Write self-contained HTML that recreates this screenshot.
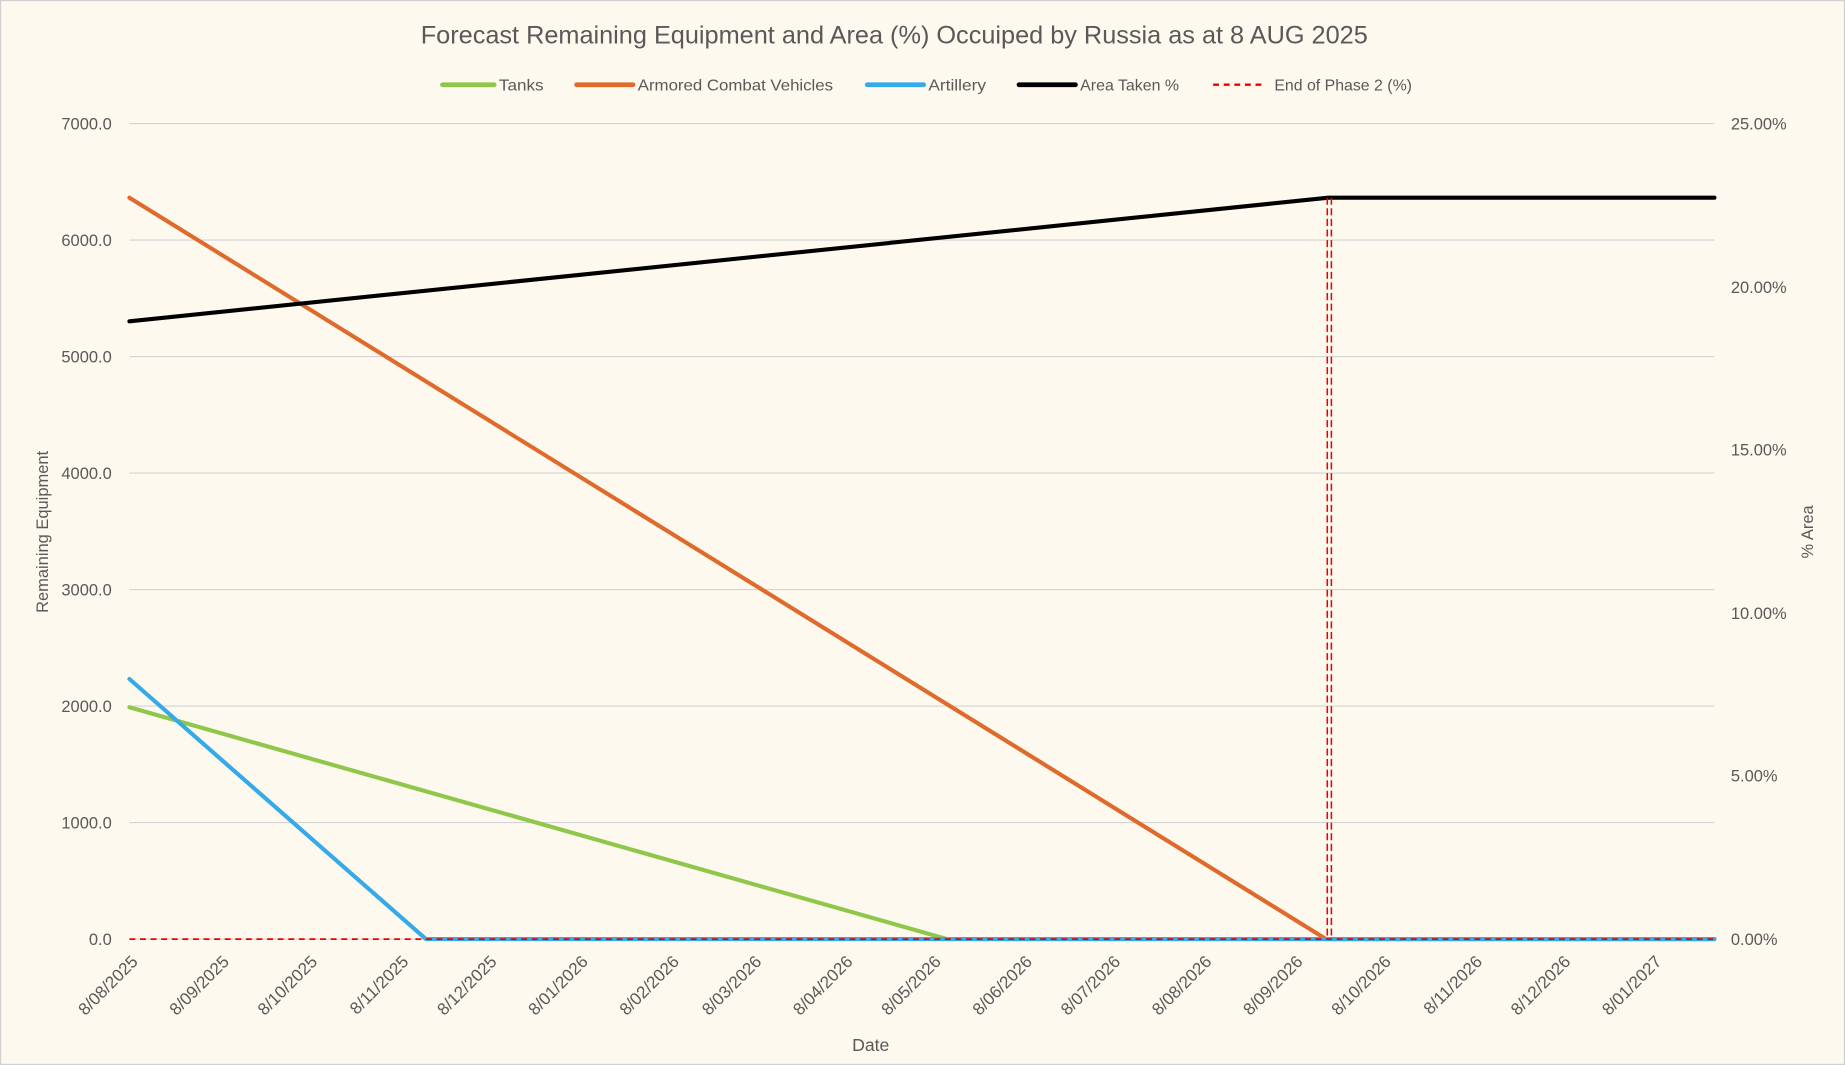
<!DOCTYPE html>
<html><head><meta charset="utf-8"><style>
html,body{margin:0;padding:0;background:#fdf9ee;}
svg{display:block;}
text{font-family:"Liberation Sans",sans-serif;fill:#595959;}
</style></head><body>
<svg width="1845" height="1065" viewBox="0 0 1568 905" preserveAspectRatio="none" xmlns="http://www.w3.org/2000/svg">
<rect x="0" y="0" width="1568" height="905" fill="#fdf9ee" stroke="#d0d0d0" stroke-width="2"/>
<text x="760" y="37" text-anchor="middle" font-size="21.5">Forecast Remaining Equipment and Area (%) Occuiped by Russia as at 8 AUG 2025</text>
<!-- legend -->
<g font-size="13.5">
<line x1="376" y1="72" x2="420" y2="72" stroke="#8fc74b" stroke-width="4" stroke-linecap="round"/><text x="424" y="77" textLength="38" lengthAdjust="spacingAndGlyphs">Tanks</text>
<line x1="490" y1="72" x2="538" y2="72" stroke="#e06a2c" stroke-width="4" stroke-linecap="round"/><text x="542" y="77" textLength="166" lengthAdjust="spacingAndGlyphs">Armored Combat Vehicles</text>
<line x1="737" y1="72" x2="785" y2="72" stroke="#36a9e8" stroke-width="4" stroke-linecap="round"/><text x="789" y="77" textLength="49" lengthAdjust="spacingAndGlyphs">Artillery</text>
<line x1="866" y1="72" x2="914" y2="72" stroke="#000" stroke-width="4" stroke-linecap="round"/><text x="918" y="77" textLength="84" lengthAdjust="spacingAndGlyphs">Area Taken %</text>
<line x1="1031" y1="72" x2="1074" y2="72" stroke="#e00" stroke-width="2" stroke-dasharray="5,4"/><text x="1083" y="77" textLength="117" lengthAdjust="spacingAndGlyphs">End of Phase 2 (%)</text>
</g>
<!-- gridlines -->
<g stroke="#d4d4d4" stroke-width="1">
<line x1="110" y1="105" x2="1457" y2="105"/><line x1="110" y1="204" x2="1457" y2="204"/>
<line x1="110" y1="303" x2="1457" y2="303"/><line x1="110" y1="402" x2="1457" y2="402"/>
<line x1="110" y1="501" x2="1457" y2="501"/><line x1="110" y1="600" x2="1457" y2="600"/>
<line x1="110" y1="699" x2="1457" y2="699"/><line x1="110" y1="798" x2="1457" y2="798"/>
</g>
<g font-size="14" text-anchor="end">
<text x="95" y="110">7000.0</text><text x="95" y="209">6000.0</text><text x="95" y="308">5000.0</text>
<text x="95" y="407">4000.0</text><text x="95" y="506">3000.0</text><text x="95" y="605">2000.0</text>
<text x="95" y="704">1000.0</text><text x="95" y="803">0.0</text>
</g>
<g font-size="14" text-anchor="start">
<text x="1471" y="110">25.00%</text><text x="1471" y="249">20.00%</text><text x="1471" y="387">15.00%</text>
<text x="1471" y="526">10.00%</text><text x="1471" y="664">5.00%</text><text x="1471" y="803">0.00%</text>
</g>
<text transform="translate(41,452) rotate(-90)" text-anchor="middle" font-size="14">Remaining Equipment</text>
<text transform="translate(1541,452) rotate(-90)" text-anchor="middle" font-size="14">% Area</text>
<text x="740" y="893" text-anchor="middle" font-size="15">Date</text>
<g font-size="14.5" text-anchor="end">
<text transform="translate(118,818) rotate(-45)">8/08/2025</text>
<text transform="translate(195.5,818) rotate(-45)">8/09/2025</text>
<text transform="translate(270.5,818) rotate(-45)">8/10/2025</text>
<text transform="translate(348,818) rotate(-45)">8/11/2025</text>
<text transform="translate(423,818) rotate(-45)">8/12/2025</text>
<text transform="translate(500.5,818) rotate(-45)">8/01/2026</text>
<text transform="translate(578,818) rotate(-45)">8/02/2026</text>
<text transform="translate(648,818) rotate(-45)">8/03/2026</text>
<text transform="translate(725.5,818) rotate(-45)">8/04/2026</text>
<text transform="translate(800.5,818) rotate(-45)">8/05/2026</text>
<text transform="translate(878,818) rotate(-45)">8/06/2026</text>
<text transform="translate(953,818) rotate(-45)">8/07/2026</text>
<text transform="translate(1030.5,818) rotate(-45)">8/08/2026</text>
<text transform="translate(1108,818) rotate(-45)">8/09/2026</text>
<text transform="translate(1183,818) rotate(-45)">8/10/2026</text>
<text transform="translate(1260.5,818) rotate(-45)">8/11/2026</text>
<text transform="translate(1335.5,818) rotate(-45)">8/12/2026</text>
<text transform="translate(1413,818) rotate(-45)">8/01/2027</text>
</g>
<!-- series -->
<g fill="none" stroke-linejoin="round" stroke-linecap="round" stroke-width="3.5">
<polyline points="110,168 1127,798 1457,798" stroke="#e06a2c"/>
<polyline points="110,601 805,798 1457,798" stroke="#8fc74b"/>
<polyline points="110,577 362,798 1457,798" stroke="#36a9e8"/>
<polyline points="110,273 1129,168 1457,168" stroke="#000"/>
</g>
<line x1="110" y1="798" x2="1457" y2="798" stroke="#e00" stroke-width="1.5" stroke-dasharray="5,4"/>
<line x1="1128" y1="168" x2="1128" y2="798" stroke="#e00" stroke-width="1.3" stroke-dasharray="6,3"/>
<line x1="1131.5" y1="168" x2="1131.5" y2="798" stroke="#e00" stroke-width="1.3" stroke-dasharray="6,3"/>
</svg>
</body></html>
